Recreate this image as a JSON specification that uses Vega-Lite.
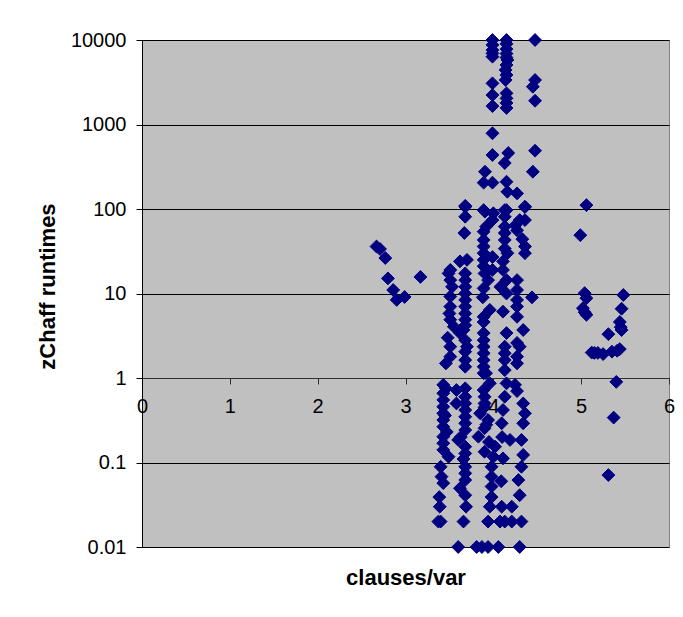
{
"$schema": "https://vega.github.io/schema/vega-lite/v6.json",
"width": 527, "height": 507,
"autosize": "none",
"padding": {"left": 142, "top": 40, "right": 14, "bottom": 70},
"background": "white",
"config": {"view": {"fill": "#c0c0c0", "stroke": "#808080", "strokeWidth": 1}, "font": "Liberation Sans"},
"data": {"values": [
{"x":2.67,"y":36},{"x":2.71,"y":33.6},{"x":2.77,"y":26.3},{"x":2.80,"y":15.1},{"x":2.86,"y":11},{"x":2.90,"y":8.4},{"x":2.99,"y":9.1},{"x":3.17,"y":15.7},
{"x":5.06,"y":111},{"x":4.99,"y":49},{"x":5.04,"y":10.1},{"x":5.06,"y":8.8},{"x":5.02,"y":6.7},{"x":5.06,"y":5.6},{"x":5.04,"y":6},{"x":5.48,"y":9.6},{"x":5.46,"y":6.6},{"x":5.44,"y":4.6},{"x":5.46,"y":3.7},{"x":5.45,"y":4.0},{"x":5.31,"y":3.3},{"x":5.12,"y":2.0},{"x":5.15,"y":1.98},{"x":5.19,"y":1.98},{"x":5.25,"y":1.92},{"x":5.35,"y":2.05},{"x":5.41,"y":2.1},{"x":5.44,"y":2.2},{"x":5.40,"y":0.9},{"x":5.37,"y":0.34},{"x":5.31,"y":0.071},
{"x":3.99,"y":10000},{"x":3.99,"y":8750},{"x":3.99,"y":7600},{"x":3.99,"y":6950},{"x":3.99,"y":6350},{"x":3.99,"y":3070},{"x":3.99,"y":2230},{"x":3.99,"y":1650},{"x":3.99,"y":787},{"x":3.99,"y":436},
{"x":4.15,"y":10000},{"x":4.15,"y":9000},{"x":4.15,"y":7800},{"x":4.15,"y":6900},{"x":4.15,"y":6200},{"x":4.16,"y":5800},{"x":4.15,"y":5060},{"x":4.14,"y":4420},{"x":4.15,"y":3860},{"x":4.14,"y":3360},{"x":4.15,"y":2340},{"x":4.15,"y":2040},{"x":4.15,"y":1800},{"x":4.15,"y":1570},{"x":4.13,"y":350},{"x":4.17,"y":460},
{"x":4.475,"y":10000},{"x":4.475,"y":3360},{"x":4.45,"y":2800},{"x":4.475,"y":1910},{"x":4.475,"y":490},{"x":4.45,"y":276},
{"x":3.905,"y":276},{"x":3.89,"y":205},{"x":3.99,"y":205},{"x":4.15,"y":210},{"x":4.16,"y":160},{"x":4.27,"y":153},{"x":3.68,"y":109},{"x":3.905,"y":93},{"x":4.0,"y":89},{"x":4.15,"y":97},{"x":4.36,"y":106},
{"x":3.51,"y":19},{"x":3.51,"y":14.4},{"x":3.51,"y":9.2},{"x":3.51,"y":7.0},{"x":3.51,"y":4.9},{"x":3.55,"y":4.05},{"x":3.51,"y":2.35},{"x":3.51,"y":1.79},{"x":3.46,"y":1.49},{"x":3.49,"y":17.3},{"x":3.53,"y":12},{"x":3.50,"y":5.8},{"x":3.48,"y":3.0},
{"x":3.68,"y":106},{"x":3.68,"y":81},{"x":3.67,"y":52},{"x":3.62,"y":24},{"x":3.70,"y":25},{"x":3.68,"y":17.3},{"x":3.68,"y":14.4},{"x":3.68,"y":12},{"x":3.68,"y":10},{"x":3.68,"y":8.4},{"x":3.68,"y":7.0},{"x":3.68,"y":5.8},{"x":3.68,"y":4.9},{"x":3.68,"y":4.2},{"x":3.62,"y":3.4},{"x":3.68,"y":2.8},{"x":3.68,"y":2.05},{"x":3.68,"y":1.63},{"x":3.68,"y":1.36},{"x":3.66,"y":3.7},{"x":3.70,"y":2.35},
{"x":3.89,"y":97},{"x":3.99,"y":74},{"x":3.89,"y":54},{"x":3.89,"y":43},{"x":3.89,"y":36},{"x":3.89,"y":30},{"x":3.89,"y":25},{"x":3.89,"y":21},{"x":3.94,"y":14.4},{"x":3.89,"y":11.5},{"x":3.96,"y":6.4},{"x":3.89,"y":5.3},{"x":3.89,"y":4.6},{"x":3.89,"y":3.4},{"x":3.89,"y":2.8},{"x":3.89,"y":2.35},{"x":3.89,"y":1.96},{"x":3.89,"y":1.63},{"x":3.89,"y":1.36},{"x":3.89,"y":1.14},{"x":3.99,"y":27},{"x":3.99,"y":19},{"x":3.92,"y":62},{"x":3.90,"y":17.3},{"x":3.88,"y":9},
{"x":4.13,"y":97},{"x":4.13,"y":81},{"x":4.13,"y":62},{"x":4.13,"y":52},{"x":4.13,"y":43},{"x":4.13,"y":34},{"x":4.11,"y":24},{"x":4.11,"y":19},{"x":4.15,"y":14.4},{"x":4.15,"y":10},{"x":4.11,"y":6.1},{"x":4.15,"y":3.4},{"x":4.13,"y":2.35},{"x":4.13,"y":1.96},{"x":4.13,"y":1.63},{"x":4.13,"y":1.24},{"x":4.16,"y":30},{"x":4.08,"y":12},
{"x":4.30,"y":74},{"x":4.27,"y":56},{"x":4.27,"y":14.4},{"x":4.27,"y":11},{"x":4.27,"y":8.4},{"x":4.27,"y":7.0},{"x":4.27,"y":5.3},{"x":4.27,"y":2.6},{"x":4.27,"y":1.79},{"x":4.27,"y":1.49},{"x":4.25,"y":64},
{"x":4.36,"y":106},{"x":4.36,"y":74},{"x":4.36,"y":36},{"x":4.36,"y":30},{"x":4.34,"y":3.7},{"x":4.30,"y":2.35},{"x":4.44,"y":9.0},{"x":4.33,"y":44},
{"x":3.43,"y":0.83},{"x":3.43,"y":0.66},{"x":3.43,"y":0.55},{"x":3.43,"y":0.457},{"x":3.43,"y":0.382},{"x":3.43,"y":0.318},{"x":3.43,"y":0.265},{"x":3.43,"y":0.202},{"x":3.43,"y":0.169},{"x":3.43,"y":0.141},{"x":3.49,"y":0.117},{"x":3.40,"y":0.089},{"x":3.41,"y":0.068},{"x":3.43,"y":0.057},{"x":3.385,"y":0.039},{"x":3.39,"y":0.030},{"x":3.374,"y":0.020},{"x":3.40,"y":0.020},{"x":3.46,"y":0.75},{"x":3.45,"y":0.36},{"x":3.47,"y":0.23},
{"x":3.68,"y":0.755},{"x":3.68,"y":0.60},{"x":3.68,"y":0.50},{"x":3.68,"y":0.418},{"x":3.68,"y":0.348},{"x":3.68,"y":0.291},{"x":3.68,"y":0.242},{"x":3.60,"y":0.185},{"x":3.68,"y":0.154},{"x":3.68,"y":0.128},{"x":3.68,"y":0.089},{"x":3.68,"y":0.0745},{"x":3.68,"y":0.062},{"x":3.62,"y":0.0495},{"x":3.68,"y":0.041},{"x":3.69,"y":0.030},{"x":3.66,"y":0.020},{"x":3.60,"y":0.010},{"x":3.58,"y":0.72},{"x":3.58,"y":0.5},{"x":3.63,"y":0.2},{"x":3.66,"y":0.11},
{"x":3.917,"y":1.14},{"x":3.96,"y":0.865},{"x":3.89,"y":0.72},{"x":3.90,"y":0.60},{"x":3.90,"y":0.50},{"x":3.85,"y":0.382},{"x":3.94,"y":0.318},{"x":3.90,"y":0.254},{"x":3.83,"y":0.202},{"x":3.90,"y":0.134},{"x":4.02,"y":0.154},{"x":4.0,"y":0.117},{"x":3.98,"y":0.089},{"x":3.98,"y":0.068},{"x":3.98,"y":0.052},{"x":3.98,"y":0.039},{"x":3.96,"y":0.030},{"x":3.94,"y":0.020},{"x":3.81,"y":0.010},{"x":3.87,"y":0.010},{"x":3.94,"y":0.010},{"x":3.90,"y":0.45},{"x":3.92,"y":0.28},{"x":3.95,"y":0.175},
{"x":4.15,"y":0.865},{"x":4.13,"y":0.60},{"x":4.11,"y":0.418},{"x":4.095,"y":0.291},{"x":4.19,"y":0.185},{"x":4.11,"y":0.112},{"x":4.095,"y":0.030},{"x":4.076,"y":0.020},{"x":4.057,"y":0.010},{"x":4.13,"y":0.02},{"x":4.21,"y":0.030},{"x":4.21,"y":0.020},{"x":4.10,"y":0.2},{"x":4.09,"y":0.06},
{"x":4.247,"y":0.83},{"x":4.34,"y":0.50},{"x":4.36,"y":0.382},{"x":4.34,"y":0.291},{"x":4.32,"y":0.185},{"x":4.34,"y":0.123},{"x":4.32,"y":0.089},{"x":4.285,"y":0.062},{"x":4.30,"y":0.041},{"x":4.32,"y":0.020},{"x":4.30,"y":0.010},{"x":4.27,"y":0.7}
]},
"mark": {"type": "point", "shape": "diamond", "filled": true, "color": "#000080", "stroke": "#000080", "strokeWidth": 1, "size": 165, "opacity": 1},
"encoding": {
"x": {"field": "x", "type": "quantitative", "scale": {"domain": [0, 6], "nice": false, "zero": false},
"axis": {"values": [0,1,2,3,4,5,6], "offset": -169, "grid": false, "domainColor": "#303030", "tickColor": "#303030", "tickSize": 6, "labelFontSize": 20, "labelColor": "#000", "labelPadding": 12, "labelFlush": false, "title": "clauses/var", "titleFontSize": 22, "titleFontWeight": "bold", "titleColor": "#000", "titleY": 189}},
"y": {"field": "y", "type": "quantitative", "scale": {"type": "log", "domain": [0.01, 10000], "nice": false},
"axis": {"values": [0.01,0.1,1,10,100,1000,10000], "format": "~g", "grid": true, "gridColor": "#000", "gridOpacity": 1, "domainColor": "#000", "tickColor": "#000", "tickSize": 6, "labelFontSize": 20, "labelPadding": 10, "labelColor": "#000", "labelFlush": false, "title": "zChaff runtimes", "titleFontSize": 22, "titleFontWeight": "bold", "titleColor": "#000", "titleX": -95, "titleY": 246, "titleBaseline": "middle", "titleAngle": 270}}
}
}
